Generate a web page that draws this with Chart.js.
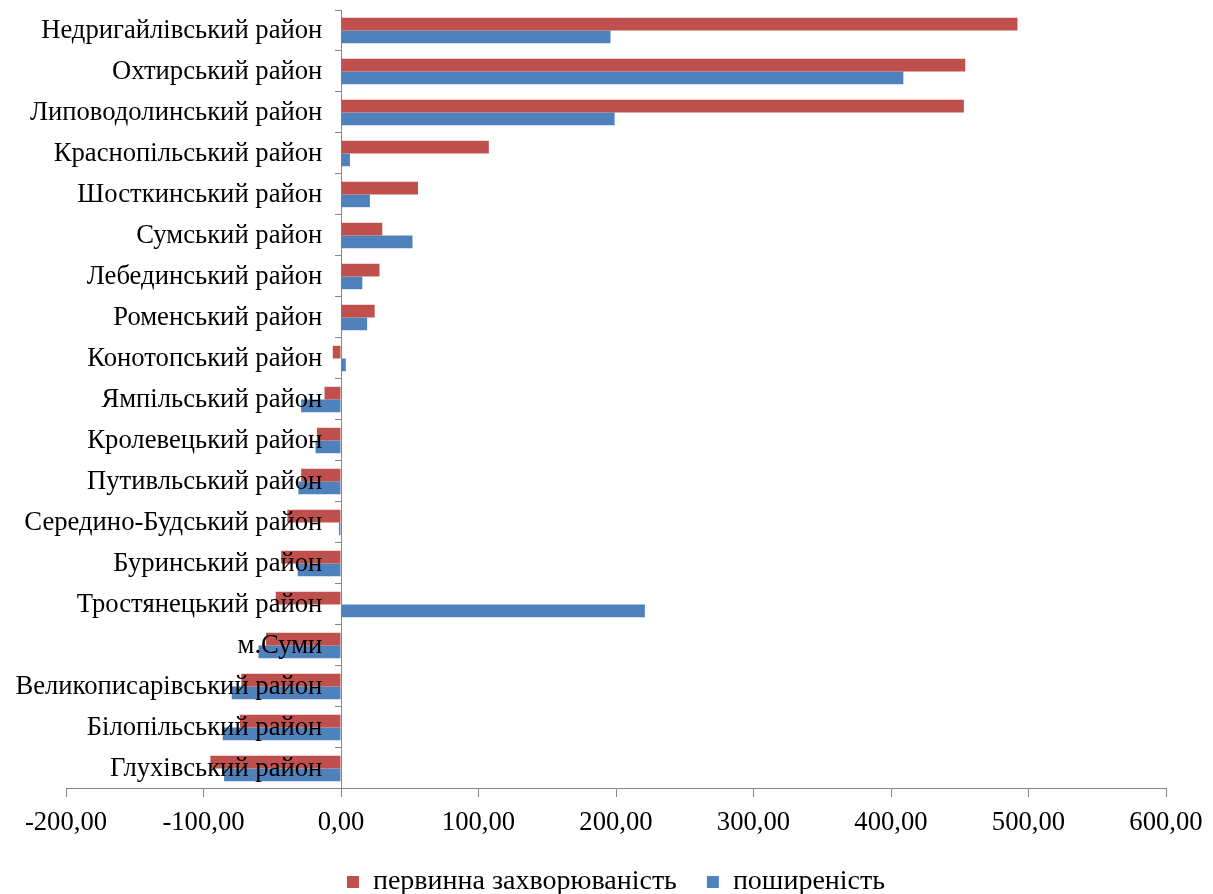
<!DOCTYPE html>
<html>
<head>
<meta charset="utf-8">
<script src="https://cdn.jsdelivr.net/npm/chart.js@4/dist/chart.umd.min.js"></script>
<style>
  html, body { margin: 0; padding: 0; background: #fff; }
  #wrap { width: 1213px; height: 894px; }
</style>
</head>
<body>
<div id="wrap"><canvas id="chart"></canvas></div>
<script>
// райони, зверху вниз
const raiony = [
    'Недригайлівський район',
    'Охтирський район',
    'Липоводолинський район',
    'Краснопільський район',
    'Шосткинський район',
    'Сумський район',
    'Лебединський район',
    'Роменський район',
    'Конотопський район',
    'Ямпільський район',
    'Кролевецький район',
    'Путивльський район',
    'Середино-Будський район',
    'Буринський район',
    'Тростянецький район',
    'м.Суми',
    'Великописарівський район',
    'Білопільський район',
    'Глухівський район'
];

const pervynna = [492, 454, 453, 107.5, 56, 30, 28, 24.5, -6, -12, -17.5, -29, -39, -43.5, -47.5, -54.5, -72.5, -73.5, -95];
const poshyrenist = [196, 409, 199, 6.5, 21, 52, 15.5, 19, 3.5, -29, -18.5, -31, -1.5, -31.5, 221, -60, -79.5, -86, -85];

const xTicks = [-200, -100, 0, 100, 200, 300, 400, 500, 600];

const fmt = (v) => v.toFixed(2).replace('.', ',');
const axisGray = '#868686';
const fontFamily = '"Liberation Serif", "Times New Roman", serif';
const fontSize = 26.67;

const ctx = document.getElementById('chart').getContext('2d');
new Chart(ctx, {
    type: 'bar',
    data: {
        labels: raiony,
        datasets: [
            {
                label: 'первинна захворюваність',
                data: pervynna,
                backgroundColor: '#C0504D'
            },
            {
                label: 'поширеність',
                data: poshyrenist,
                backgroundColor: '#4F81BD'
            }
        ]
    },
    options: {
        indexAxis: 'y',
        responsive: true,
        maintainAspectRatio: false,
        animation: false,
        datasets: {
            bar: { categoryPercentage: 0.62, barPercentage: 1.0 }
        },
        layout: {
            padding: { left: 66, right: 47, top: 10, bottom: -12 }
        },
        scales: {
            x: {
                min: -200,
                max: 600,
                afterBuildTicks: (axis) => {
                    axis.ticks = xTicks.map((v) => ({ value: v }));
                },
                afterFit: (scale) => {
                    scale.height -= 11;
                },
                grid: {
                    drawOnChartArea: false,
                    color: axisGray,
                    tickLength: 8
                },
                border: { color: axisGray },
                ticks: {
                    color: '#000',
                    font: { family: fontFamily, size: fontSize },
                    padding: 10,
                    maxRotation: 0,
                    callback: (v) => fmt(v)
                }
            },
            y: {
                position: { x: 0 },
                afterFit: (scale) => {
                    scale.paddingTop = 0;
                    scale.paddingBottom = 0;
                },
                grid: {
                    drawOnChartArea: false,
                    offset: true,
                    color: axisGray,
                    tickLength: 6
                },
                border: { color: axisGray },
                ticks: {
                    z: 1,
                    color: '#000',
                    font: { family: fontFamily, size: fontSize },
                    autoSkip: false,
                    // підписи стоять трохи лівіше від осі
                    callback: function (v) { return this.getLabelForValue(v) + '\u2002\u2009'; }
                }
            }
        },
        plugins: {
            legend: {
                position: 'bottom',
                labels: {
                    color: '#000',
                    font: { family: fontFamily, size: 28 },
                    boxWidth: 12,
                    boxHeight: 12,
                    padding: 30
                }
            },
            tooltip: { enabled: false }
        }
    }
});
</script>
</body>
</html>
